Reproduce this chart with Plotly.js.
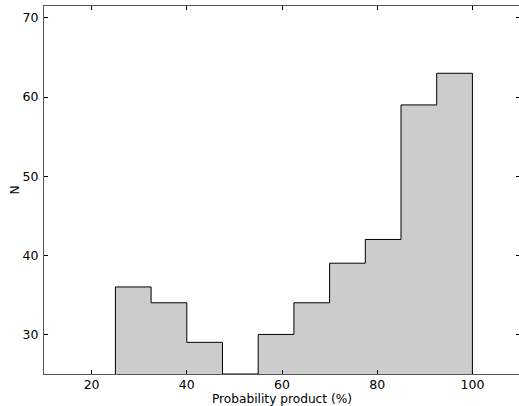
<!DOCTYPE html>
<html><head><meta charset="utf-8">
<script src="https://cdn.plot.ly/plotly-3.0.1.min.js"></script>
<style>html,body{margin:0;padding:0;overflow:hidden;background:#fff}</style>
</head><body><div id="chart"></div>
<script>
const binEdges = [25, 32.5, 40, 47.5, 55, 62.5, 70, 77.5, 85, 92.5, 100];
const counts = [36, 34, 29, 25, 30, 34, 39, 42, 59, 63];
const xTicks = [20, 40, 60, 80, 100];
const yTicks = [30, 40, 50, 60, 70];

const xs = [binEdges[0]], ys = [0];
for (let i = 0; i < counts.length; i++) {
  xs.push(binEdges[i], binEdges[i + 1]);
  ys.push(counts[i], counts[i]);
}
xs.push(binEdges[binEdges.length - 1]); ys.push(0);

const font = {family: 'DejaVu Sans', size: 12.5, color: '#000'};
const titleFont = {family: 'DejaVu Sans', size: 12.2, color: '#000'};
const axisCommon = {
  showgrid: false, zeroline: false, showline: true, linecolor: '#555', linewidth: 1,
  mirror: 'ticks', ticks: 'inside', ticklen: 4, tickcolor: '#000', tickwidth: 1,
  tickfont: font
};
Plotly.newPlot('chart', [{
  x: xs, y: ys, type: 'scatter', mode: 'lines', fill: 'toself',
  fillcolor: '#cccccc', line: {color: '#000', width: 1}, hoverinfo: 'skip'
}], {
  width: 520, height: 406,
  margin: {l: 44, r: 0, t: 6, b: 32},
  paper_bgcolor: '#fff', plot_bgcolor: '#fff',
  showlegend: false,
  font: font,
  xaxis: Object.assign({}, axisCommon, {
    range: [10, 110], tickvals: xTicks, ticktext: xTicks.map(String),
    ticklabelstandoff: -1,
    title: {text: 'Probability product (%)', font: titleFont, standoff: 5}
  }),
  yaxis: Object.assign({}, axisCommon, {
    range: [25, 71.5], tickvals: yTicks, ticktext: yTicks.map(String),
    ticklabelstandoff: 2,
    title: {text: 'N', font: titleFont, standoff: 0}
  })
}, {staticPlot: true});
</script></body></html>
